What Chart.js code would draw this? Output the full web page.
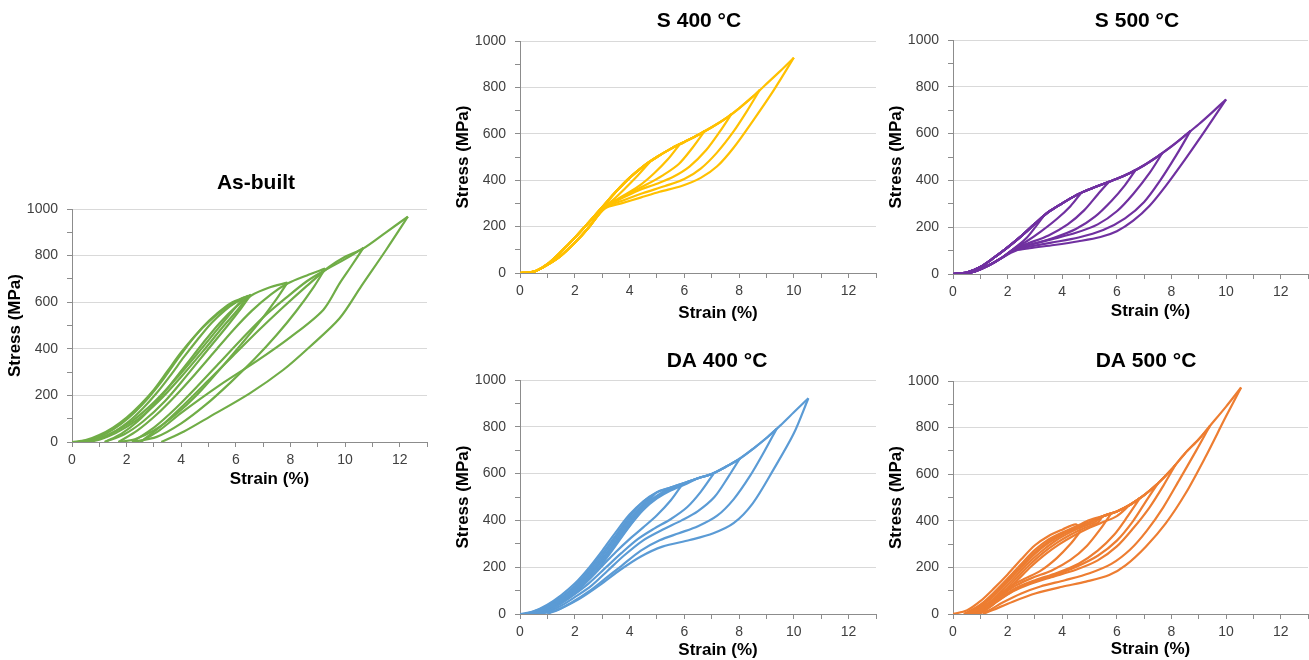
<!DOCTYPE html>
<html>
<head>
<meta charset="utf-8">
<script src="https://cdn.jsdelivr.net/npm/chart.js@4.4.0/dist/chart.umd.min.js"></script>
<style>
  body { margin: 0; width: 1309px; height: 660px; overflow: hidden; background: #fff; position: relative; }
  canvas { position: absolute; }
</style>
</head>
<body>
<canvas id="cAsBuilt" width="432" height="333" style="left:0px;top:160px"></canvas>
<canvas id="cS400" width="433" height="324" style="left:448px;top:0px"></canvas>
<canvas id="cS500" width="432" height="325" style="left:881px;top:0px"></canvas>
<canvas id="cDA400" width="433" height="325" style="left:448px;top:340px"></canvas>
<canvas id="cDA500" width="432" height="325" style="left:881px;top:340px"></canvas>
<script>
// ---------- As-built: each cycle's loading and unloading branch (strain %, stress MPa) ----------
const asBuiltLoad = [
  [[0,0],[0.5,8],[1.0,30],[1.5,62],[2.0,105],[2.5,160],[3.0,225],[3.5,305],[4.0,385],[4.5,455],[5.0,515],[5.5,565],[6.3,620]],
  [[0.3,0],[0.8,14],[1.3,40],[1.8,78],[2.3,128],[2.8,190],[3.3,262],[3.8,345],[4.3,425],[4.8,495],[5.3,550],[5.8,595],[6.45,628]],
  [[0.6,0],[1.1,18],[1.6,48],[2.1,90],[2.6,145],[3.1,210],[3.6,285],[4.1,365],[4.6,440],[5.1,510],[5.6,565],[6.0,600],[6.55,632]],
  [[1.2,0],[1.8,35],[2.4,88],[3.0,160],[3.6,245],[4.2,335],[4.8,425],[5.4,510],[6.0,580],[6.55,628],[7.2,662],[7.89,684]],
  [[1.7,0],[2.4,50],[3.1,118],[3.8,200],[4.5,290],[5.2,385],[5.9,480],[6.6,565],[7.3,635],[7.89,680],[8.6,715],[9.27,744]],
  [[2.2,0],[3.0,62],[3.8,145],[4.6,240],[5.4,340],[6.2,440],[7.0,535],[7.8,615],[8.6,690],[9.27,738],[10.0,785],[10.67,833]],
  [[2.5,0],[3.3,72],[4.1,160],[5.0,265],[5.9,370],[6.8,475],[7.7,575],[8.6,670],[9.4,750],[10.0,795],[10.67,831],[11.5,900],[12.3,967]]
];
const asBuiltUnload = [
  [[5.9,565],[5.3,480],[4.6,380],[3.8,270],[3.0,170],[2.2,90],[1.4,35],[0.8,8],[0.3,0]],
  [[6.1,572],[5.5,490],[4.8,390],[4.0,280],[3.2,178],[2.4,96],[1.6,38],[1.0,10],[0.6,0]],
  [[6.2,575],[5.7,500],[5.0,400],[4.2,285],[3.4,175],[2.6,88],[1.9,32],[1.2,0]],
  [[7.5,615],[6.9,520],[6.2,420],[5.4,310],[4.6,205],[3.8,118],[3.0,50],[2.3,12],[1.7,0]],
  [[8.85,665],[8.2,560],[7.5,460],[6.7,358],[5.8,255],[4.9,160],[4.0,80],[3.1,22],[2.2,0]],
  [[10.2,750],[9.8,681],[9.2,567],[8.0,450],[6.8,350],[5.4,243],[4.0,125],[3.2,50],[2.5,0]],
  [[11.5,824],[10.6,670],[9.8,531],[8.71,409],[7.73,309],[6.51,209],[5.05,109],[4.1,45],[3.27,0]]
];

// ---------- S 400 °C ----------
const s400Envelope = [[0,0],[0.3,2],[0.6,10],[1.0,38],[1.5,92],[2.0,152],[2.5,217],[3.0,283],[3.5,350],[4.0,410],[4.5,460],[5.0,500],[5.5,535],[6.0,565],[6.5,595],[7.0,628],[7.5,665],[8.0,710],[8.5,760],[9.0,815],[9.5,870],[10.0,928]];
const s400Peaks = [[4.74,478],[5.84,556],[6.75,613],[7.72,685],[8.76,790],[10.0,928]];
const s400Unload = [
  [[4.3,420],[3.8,360],[3.4,315],[3.1,288]],
  [[5.4,490],[4.9,430],[4.4,380],[3.8,335],[3.3,300],[3.1,287]],
  [[6.3,540],[5.8,470],[5.2,420],[4.6,380],[4.0,345],[3.4,305],[3.1,285]],
  [[7.3,610],[6.8,530],[6.2,460],[5.6,415],[5.0,385],[4.3,355],[3.6,315],[3.1,284]],
  [[8.3,700],[7.8,610],[7.2,520],[6.6,450],[6.0,405],[5.3,375],[4.5,345],[3.7,310],[3.1,282]],
  [[9.25,785],[8.5,655],[7.8,540],[7.2,460],[6.6,410],[5.9,375],[5.1,350],[4.4,325],[3.7,300],[3.1,278]]
];
const s400Tail = [[2.5,195],[2.0,130],[1.5,75],[1.0,35],[0.6,10],[0.3,2],[0,0]];

// ---------- S 500 °C ----------
const s500Envelope = [[0,0],[0.5,6],[1.0,30],[1.5,70],[2.0,114],[2.5,162],[3.0,215],[3.5,265],[4.0,302],[4.5,336],[5.0,362],[5.5,385],[6.0,407],[6.5,433],[7.0,465],[7.5,503],[8.0,545],[8.5,592],[9.0,640],[9.5,692],[10.0,746]];
const s500Peaks = [[3.3,245],[4.68,345],[5.72,395],[6.69,445],[7.66,516],[8.7,612],[10.0,746]];
const s500Unload = [
  [[3.0,198],[2.7,155],[2.3,115]],
  [[4.3,290],[3.8,235],[3.2,180],[2.7,140],[2.3,114]],
  [[5.3,340],[4.8,272],[4.2,212],[3.5,165],[2.8,133],[2.3,112]],
  [[6.3,380],[5.8,312],[5.2,245],[4.5,192],[3.7,155],[2.9,128],[2.3,110]],
  [[7.2,432],[6.6,342],[6.0,268],[5.3,212],[4.5,176],[3.6,148],[2.8,124],[2.3,108]],
  [[8.2,512],[7.6,402],[7.0,308],[6.3,238],[5.5,188],[4.6,156],[3.6,134],[2.8,117],[2.3,105]],
  [[9.25,616],[8.5,490],[7.8,378],[7.2,292],[6.6,228],[6.0,183],[5.4,158],[4.6,140],[3.7,124],[2.8,110],[2.3,100]]
];
const s500Tail = [[1.8,70],[1.3,36],[0.8,11],[0.4,2],[0,0]];

// ---------- DA 400 °C ----------
const da400Envelope = [[0,0],[0.5,12],[1.0,40],[1.5,80],[2.0,130],[2.5,195],[3.0,270],[3.5,350],[4.0,425],[4.5,480],[5.0,520],[5.5,540],[6.0,560],[6.5,580],[7.0,598],[7.5,628],[8.0,662],[8.5,705],[9.0,752],[9.5,805],[10.0,862],[10.53,922]];
const da400Peaks = [[4.9,512],[5.9,550],[7.06,598],[8.03,665],[9.37,791],[10.53,922]];
const da400Reload = [
  [],
  [[0.2,0],[1.0,34],[2.0,120],[3.0,258],[4.0,415]],
  [[0.3,0],[1.0,28],[2.0,112],[3.0,247],[4.0,405],[4.5,468]],
  [[0.4,0],[1.0,24],[2.0,104],[3.0,236],[4.0,395],[4.5,460],[5.0,506]],
  [[0.5,0],[1.0,20],[2.0,96],[3.0,226],[4.0,385],[4.5,452],[5.0,500],[5.5,533]],
  [[0.6,0],[1.1,20],[2.0,88],[3.0,215],[4.0,375],[4.5,445],[5.0,494],[5.5,528],[6.0,552]]
];
const da400Unload = [
  [[4.5,452],[4.0,378],[3.5,302],[3.0,232],[2.5,166],[2.0,110],[1.5,62],[1.0,25],[0.5,4],[0.2,0]],
  [[5.5,485],[5.0,422],[4.5,370],[4.0,320],[3.5,265],[3.0,205],[2.5,145],[2.0,95],[1.5,55],[1.0,22],[0.6,5],[0.3,0]],
  [[6.6,522],[6.1,456],[5.5,405],[4.9,365],[4.3,320],[3.7,260],[3.1,195],[2.5,130],[2.0,85],[1.5,45],[1.0,15],[0.4,0]],
  [[7.6,585],[7.1,500],[6.5,440],[5.9,400],[5.2,360],[4.5,315],[3.8,250],[3.2,185],[2.6,120],[2.0,72],[1.5,35],[1.0,8],[0.5,0]],
  [[8.9,690],[8.4,590],[7.8,490],[7.2,420],[6.5,375],[5.8,345],[5.1,315],[4.4,270],[3.7,205],[3.1,150],[2.5,95],[1.9,50],[1.3,15],[0.6,0]],
  [[10.0,772],[9.25,616],[8.5,473],[7.8,388],[7.06,345],[6.2,316],[5.2,288],[4.4,245],[3.65,188],[3.0,131],[2.2,67],[1.5,24],[1.0,0]]
];

// ---------- DA 500 °C ----------
const da500Envelope = [[0,0],[0.5,15],[1.0,55],[1.5,110],[2.0,170],[2.5,235],[3.0,295],[3.5,335],[4.0,362],[4.5,385],[5.0,403],[5.5,420],[6.0,440],[6.5,470],[7.0,510],[7.5,560],[8.0,620],[8.5,690],[9.0,750],[9.4,806],[10.0,890],[10.55,972]];
const da500Peaks = [[4.68,357],[5.78,430],[6.85,498],[7.5,560],[8.15,641],[9.4,806],[10.55,972]];
const da500Reload = [
  [],
  [[0.4,0],[1.0,40],[1.5,92],[2.0,152],[2.5,215],[3.0,275],[3.5,320],[4.0,350],[4.5,375]],
  [[0.5,0],[1.0,35],[1.5,85],[2.0,145],[2.5,207],[3.0,265],[3.5,312],[4.0,345],[4.5,372],[5.0,395]],
  [[0.6,0],[1.0,30],[1.5,78],[2.0,138],[2.5,200],[3.0,258],[3.5,305],[4.0,340],[4.5,368],[5.0,392]],
  [[0.7,0],[1.2,35],[1.7,90],[2.2,150],[2.7,212],[3.2,265],[3.7,310],[4.2,345],[4.7,372],[5.2,395]],
  [[0.8,0],[1.3,35],[1.8,90],[2.3,150],[2.8,210],[3.3,262],[3.8,305],[4.3,340],[4.8,368],[5.3,392]],
  [[0.9,0],[1.4,35],[1.9,90],[2.4,150],[2.9,208],[3.4,258],[3.9,300],[4.4,335],[4.9,365],[5.4,390],[6.0,420]]
];
const da500Unload = [
  [[4.3,300],[3.8,240],[3.2,185],[2.6,150],[2.2,125],[1.8,92],[1.3,48],[0.8,14],[0.4,0]],
  [[5.4,365],[4.9,292],[4.3,232],[3.6,186],[2.9,155],[2.3,122],[1.8,84],[1.3,42],[0.9,14],[0.5,0]],
  [[6.4,420],[5.9,340],[5.3,272],[4.6,216],[3.8,176],[3.0,145],[2.3,112],[1.8,74],[1.3,35],[0.9,8],[0.6,0]],
  [[7.1,490],[6.6,400],[6.0,315],[5.3,250],[4.5,202],[3.7,166],[2.9,136],[2.3,106],[1.7,62],[1.2,22],[0.7,0]],
  [[7.7,550],[7.2,458],[6.6,368],[6.0,290],[5.3,230],[4.5,190],[3.6,158],[2.8,128],[2.2,97],[1.6,52],[1.2,18],[0.8,0]],
  [[8.9,700],[8.3,578],[7.7,458],[7.1,358],[6.5,278],[5.8,215],[5.0,175],[4.1,145],[3.2,118],[2.5,88],[1.8,48],[1.3,15],[0.9,0]],
  [[9.98,844],[9.25,675],[8.52,518],[7.79,389],[7.06,289],[6.33,210],[5.72,167],[4.87,139],[4.0,117],[3.04,89],[2.19,53],[1.46,17],[1.1,0]]
];

// ---------- build branches ----------
function explicitBranches(loads, unloads) {
  const out = [];
  loads.forEach((ld, i) => {
    out.push(ld);
    out.push([ld[ld.length - 1]].concat(unloads[i]));
  });
  return out;
}

function envelopeBranches(envelope, peaks, unloads, reloads, tail) {
  const out = [];
  peaks.forEach((pk, i) => {
    const start = reloads ? reloads[i] : [];
    const lastX = start.length ? start[start.length - 1][0] : -1;
    const ld = start.concat(envelope.filter(p => p[0] > lastX && p[0] < pk[0]), [pk]);
    out.push(ld);
    out.push([pk].concat(unloads[i], tail || []));
  });
  return out;
}

Chart.defaults.font.family = '"Liberation Sans", Arial, Helvetica, sans-serif';
Chart.defaults.color = '#404040';

// panel title and x-axis title, drawn where the reference has them
const textPlugin = {
  id: 'panelText',
  afterDraw(chart, args, opts) {
    const { ctx, chartArea } = chart;
    ctx.save();
    ctx.fillStyle = '#000';
    ctx.textAlign = 'center';
    ctx.textBaseline = 'middle';
    ctx.font = 'bold 21px "Liberation Sans", Arial, sans-serif';
    ctx.fillText(opts.title, opts.titleX, opts.titleY);
    ctx.font = 'bold 17px "Liberation Sans", Arial, sans-serif';
    ctx.fillText('Strain (%)', (chartArea.left + chartArea.right) / 2 + 20, chartArea.bottom + opts.xTitleDy);
    ctx.restore();
  }
};

function makeChart(id, title, color, branches, lay) {
  const datasets = branches.map(b => ({
    data: b.map(p => ({ x: p[0], y: p[1] })),
    borderColor: color,
    borderWidth: 2.2,
    pointRadius: 0,
    showLine: true,
    fill: false,
    tension: 0.3
  }));
  new Chart(document.getElementById(id), {
    type: 'scatter',
    data: { datasets },
    plugins: [textPlugin],
    options: {
      responsive: false,
      animation: false,
      layout: { padding: { left: 0, right: 5, top: lay.padTop, bottom: 0 } },
      plugins: {
        legend: { display: false },
        tooltip: { enabled: false },
        title: { display: false },
        panelText: { title: title, titleX: lay.titleX, titleY: lay.titleY, xTitleDy: lay.xTitleDy }
      },
      scales: {
        x: {
          type: 'linear',
          min: 0, max: 13,
          afterFit: s => { s.height = 51; },
          border: { color: '#8c8c8c', width: 1 },
          grid: { drawOnChartArea: false, tickLength: 5, tickColor: '#8c8c8c' },
          ticks: {
            stepSize: 1, autoSkip: false, maxRotation: 0, padding: 5,
            font: { size: 14 }, color: '#404040',
            callback: v => (v % 2 === 0 ? String(v) : '')
          }
        },
        y: {
          type: 'linear',
          min: 0, max: 1000,
          afterFit: s => { s.width = 72; },
          border: { color: '#8c8c8c', width: 1 },
          grid: {
            tickLength: 5,
            tickColor: '#8c8c8c',
            color: c => (c.tick && c.tick.value % 200 === 0 ? '#d9d9d9' : 'rgba(0,0,0,0)')
          },
          ticks: {
            stepSize: 100, autoSkip: false, padding: 9,
            font: { size: 14 }, color: '#404040',
            callback: v => (v % 200 === 0 ? String(v) : '')
          },
          title: {
            display: true, text: 'Stress (MPa)', color: '#000',
            font: { size: 17, weight: 'bold' }, padding: { top: 5, bottom: 0 }
          }
        }
      }
    }
  });
}

makeChart('cAsBuilt', 'As-built', '#70AD47', explicitBranches(asBuiltLoad, asBuiltUnload),
  { padTop: 49, titleX: 256, titleY: 23, xTitleDy: 37 });
makeChart('cS400', 'S 400 °C', '#FFC000', envelopeBranches(s400Envelope, s400Peaks, s400Unload, null, s400Tail),
  { padTop: 41, titleX: 251, titleY: 21, xTitleDy: 40 });
makeChart('cS500', 'S 500 °C', '#7030A0', envelopeBranches(s500Envelope, s500Peaks, s500Unload, null, s500Tail),
  { padTop: 40, titleX: 256, titleY: 21, xTitleDy: 37 });
makeChart('cDA400', 'DA 400 °C', '#5B9BD5', envelopeBranches(da400Envelope, da400Peaks, da400Unload, da400Reload, null),
  { padTop: 40, titleX: 269, titleY: 21, xTitleDy: 36 });
makeChart('cDA500', 'DA 500 °C', '#ED7D31', envelopeBranches(da500Envelope, da500Peaks, da500Unload, da500Reload, null),
  { padTop: 41, titleX: 265, titleY: 21, xTitleDy: 35 });
</script>
</body>
</html>
